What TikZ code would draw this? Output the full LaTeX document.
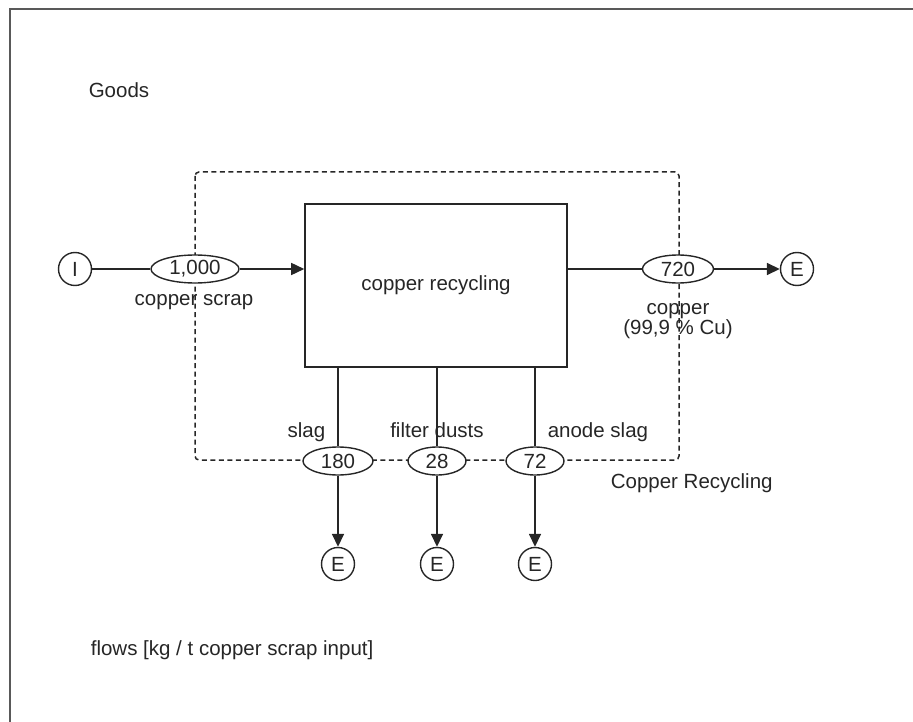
\documentclass[tikz,border=0pt]{standalone}
\usepackage{fontspec}
\setmainfont{Liberation Sans}
\usetikzlibrary{arrows.meta, shapes.geometric, calc}

\begin{document}
\begin{tikzpicture}[x=1pt, y=-1pt, line width=1.6pt, draw=black!85, text=black!85,
  font=\fontsize{20.5}{24}\selectfont,
  process/.style={draw, rectangle, minimum width=262pt, minimum height=163pt, inner sep=0pt},
  flowval/.style={draw, ellipse, fill=white, line width=1.4pt, minimum height=28pt, inner sep=0pt},
  terminal/.style={draw, circle, line width=1.4pt, minimum size=33pt, inner sep=0pt},
  flowarrow/.style={-{Triangle[length=13pt, width=12pt]}}]
\useasboundingbox (0,0) rectangle (913,722);

% Frame
\draw[black!65, line width=1.4pt] (913,9) -- (10,9) -- (10,722);

% Titles
\node[anchor=base west, inner sep=0pt] (goods) at (88,98) {Goods};
\node[anchor=base west, inner sep=0pt] (units) at (90,655) {flows [kg / t copper scrap input]};

% System boundary
\draw[line width=1.5pt, dash pattern=on 5pt off 3.5pt, rounded corners=4pt] (195,172) rectangle (679,460);
\node[anchor=base west, inner sep=0pt] (sysname) at (610,488) {Copper Recycling};

% Process
\node[process] (recycling) at (436,285.5) {copper recycling};

% Input
\node[terminal] (input) at (75,269) {I};
\node[flowval, minimum width=88pt] (scrap) at (195,269) {1,000};
\node[anchor=base, inner sep=0pt] (scraplbl) at (194,305) {copper scrap};
\draw (input) -- (scrap);
\draw[flowarrow] (scrap) -- (scrap -| recycling.west);

% Output
\node[terminal] (cuout) at (797,269) {E};
\node[flowval, minimum width=71pt] (copper) at (678,269) {720};
\node[anchor=base, inner sep=0pt] (copperlbl) at (678,314) {copper};
\node[anchor=base, inner sep=0pt] (puritylbl) at (678,334) {(99,9 \% Cu)};
\draw (recycling.east |- copper) -- (copper);
\draw[flowarrow] (copper) -- (cuout);

% Residues
\node[flowval, minimum width=70pt] (slag) at (338,461) {180};
\node[flowval, minimum width=58pt] (dusts) at (437,461) {28};
\node[flowval, minimum width=58pt] (anode) at (535,461) {72};
\node[terminal] (slagout) at (338,564) {E};
\node[terminal] (dustsout) at (437,564) {E};
\node[terminal] (anodeout) at (535,564) {E};
\node[anchor=base east, inner sep=0pt] (slaglbl) at (326,437) {slag};
\node[anchor=base, inner sep=0pt] (dustslbl) at (437,437) {filter dusts};
\node[anchor=base west, inner sep=0pt] (anodelbl) at (547,437) {anode slag};
\draw (recycling.south -| slag) -- (slag);
\draw (recycling.south -| dusts) -- (dusts);
\draw (recycling.south -| anode) -- (anode);
\draw[flowarrow] (slag) -- (slagout);
\draw[flowarrow] (dusts) -- (dustsout);
\draw[flowarrow] (anode) -- (anodeout);
\end{tikzpicture}
\end{document}
